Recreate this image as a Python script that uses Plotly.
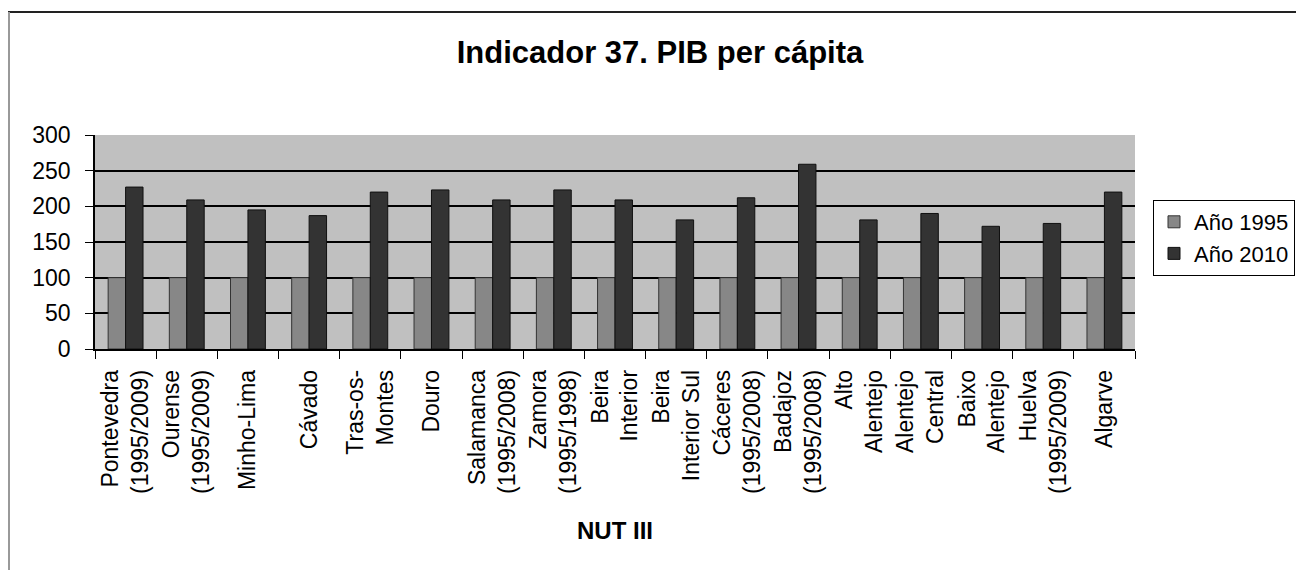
import plotly.graph_objects as go

categorias = [
    "Pontevedra<br>(1995/2009)", "Ourense<br>(1995/2009)", "Minho-Lima", "Cávado",
    "Tras-os-<br>Montes", "Douro", "Salamanca<br>(1995/2008)", "Zamora<br>(1995/1998)",
    "Beira<br>Interior", "Beira<br>Interior Sul", "Cáceres<br>(1995/2008)",
    "Badajoz<br>(1995/2008)", "Alto<br>Alentejo", "Alentejo<br>Central",
    "Baixo<br>Alentejo", "Huelva<br>(1995/2009)", "Algarve",
]
ano_1995 = [100] * 17
ano_2010 = [227, 209, 195, 187, 220, 223, 209, 223, 209, 181, 212, 259, 181, 190, 172, 176, 220]
y_ticks = [0, 50, 100, 150, 200, 250, 300]

FONT = "Liberation Sans, Arial, sans-serif"

# the page body has an 8px margin, so the figure is 8px smaller than the window
W, H = 1296, 562
L, R, T, B = 87, 169, 127, 221
pw, ph = W - L - R, H - T - B

def px(x):
    return (x - L) / pw

def py(y):
    return (H - B - y) / ph

fig = go.Figure()
fig.add_trace(go.Bar(x=categorias, y=ano_1995, name="Año 1995",
                     marker=dict(color="#878787", line=dict(color="#333333", width=1))))
fig.add_trace(go.Bar(x=categorias, y=ano_2010, name="Año 2010",
                     marker=dict(color="#333333", line=dict(color="#111111", width=1))))

fig.update_layout(
    width=W, height=H,
    margin=dict(l=L, r=R, t=T, b=B, autoexpand=False),
    paper_bgcolor="white",
    plot_bgcolor="#c0c0c0",
    font=dict(family=FONT, color="black", size=23),
    barmode="group", bargap=0.43, bargroupgap=0,
    title=dict(text="<b>Indicador 37. PIB per cápita</b>", x=652 / W, xanchor="center",
               y=1 - 44 / H, yanchor="middle", font=dict(size=31, family=FONT)),
    legend=dict(x=px(1145), xanchor="left", y=py(192), yanchor="top",
                bordercolor="black", borderwidth=1, bgcolor="white",
                font=dict(size=22, family=FONT), tracegroupgap=0, itemwidth=30),
    shapes=[
        dict(type="line", xref="paper", yref="paper", x0=px(0), x1=px(W + 5), y0=py(4), y1=py(4),
             line=dict(color="#222222", width=2)),
        dict(type="line", xref="paper", yref="paper", x0=px(1), x1=px(1), y0=py(4), y1=py(H + 5),
             line=dict(color="#999999", width=2)),
    ],
)
fig.update_yaxes(range=[0, 300], tickvals=y_ticks, showgrid=True, gridcolor="black", gridwidth=1.5,
                 showline=True, linecolor="black", linewidth=1.5, ticks="outside", ticklen=8,
                 tickcolor="black", ticklabelstandoff=10, zeroline=False)
fig.update_xaxes(tickangle=-90, tickson="boundaries", ticks="outside", ticklen=8, tickcolor="black",
                 showline=True, linecolor="black", linewidth=1.5, ticklabelstandoff=10,
                 title=dict(text="<b>NUT III</b>", font=dict(size=24, family=FONT), standoff=29))

fig.write_html("out.html")
